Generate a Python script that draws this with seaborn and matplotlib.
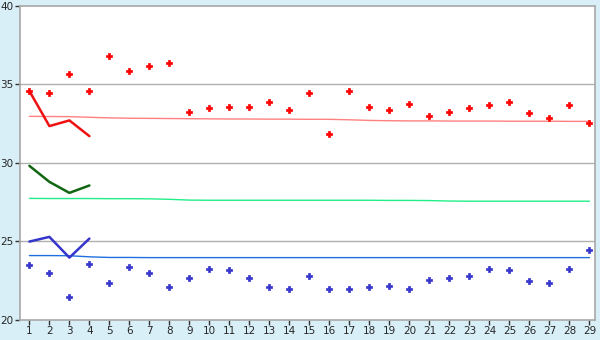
import matplotlib
matplotlib.use("Agg")
import matplotlib.pyplot as plt
import seaborn as sns
import pandas as pd

days = list(range(1, 30))

red_points = [34.57, 34.42, 35.63, 34.57, 36.78, 35.82, 36.14, 36.35, 33.21, 33.46,
              33.53, 33.53, 33.85, 33.34, 34.42, 31.81, 34.55, 33.53, 33.34, 33.72,
              32.96, 33.21, 33.46, 33.66, 33.85, 33.15, 32.83, 33.66, 32.51]
blue_points = [23.53, 23.02, 21.49, 23.59, 22.38, 23.40, 23.02, 22.13, 22.70, 23.27,
               23.21, 22.70, 22.13, 22.00, 22.83, 22.00, 22.00, 22.13, 22.19, 22.00,
               22.57, 22.70, 22.83, 23.27, 23.21, 22.51, 22.38, 23.27, 24.48]

red_mean = [32.96, 32.95, 32.94, 32.90, 32.86, 32.84, 32.83, 32.82, 32.81, 32.80,
            32.79, 32.79, 32.78, 32.78, 32.77, 32.77, 32.74, 32.70, 32.68, 32.67,
            32.67, 32.66, 32.66, 32.66, 32.65, 32.65, 32.65, 32.64, 32.64]
green_mean = [27.74, 27.73, 27.73, 27.73, 27.72, 27.72, 27.71, 27.68, 27.63, 27.62,
              27.62, 27.62, 27.62, 27.62, 27.62, 27.62, 27.62, 27.62, 27.61, 27.61,
              27.60, 27.57, 27.56, 27.56, 27.56, 27.56, 27.56, 27.56, 27.56]
blue_mean = [24.10, 24.10, 24.09, 24.02, 23.98, 23.98, 23.97, 23.97, 23.97, 23.97,
             23.97, 23.97, 23.97, 23.97, 23.97, 23.97, 23.97, 23.97, 23.97, 23.97,
             23.97, 23.97, 23.97, 23.97, 23.97, 23.97, 23.97, 23.97, 23.97]

first_days = [1, 2, 3, 4]
red_recent = [34.57, 32.34, 32.70, 31.70]
green_recent = [29.81, 28.79, 28.09, 28.56]
blue_recent = [24.99, 25.29, 23.97, 25.18]

y_ticks = [20, 25, 30, 35, 40]

sns.set_theme(style="white")
plt.rcParams['font.family'] = ['DejaVu Sans']

fig = plt.figure(figsize=(6, 3.4), dpi=100)
fig.patch.set_facecolor("#d9eff7")
ax = fig.add_axes([20/600, 1 - 320/340, 575/600, (320 - 5.7)/340])
ax.set_facecolor("white")

for v in y_ticks[1:-1]:
    ax.axhline(v, color="#b0b0b0", lw=1.0, zorder=0)

sns.lineplot(x=days, y=red_mean, ax=ax, color="#ff8080", lw=1.0)
sns.lineplot(x=days, y=green_mean, ax=ax, color="#22ee88", lw=1.0)
sns.lineplot(x=days, y=blue_mean, ax=ax, color="#1f6fe0", lw=1.0)

sns.lineplot(x=first_days, y=red_recent, ax=ax, color="#ee1111", lw=1.8)
sns.lineplot(x=first_days, y=green_recent, ax=ax, color="#116611", lw=1.8)
sns.lineplot(x=first_days, y=blue_recent, ax=ax, color="#3535cc", lw=1.8)

sns.scatterplot(x=days, y=red_points, ax=ax, color="#ff0000", marker="P", s=13,
                edgecolor="#ff0000", linewidth=0.5, zorder=5)
sns.scatterplot(x=days, y=blue_points, ax=ax, color="#3535cc", marker="P", s=13,
                edgecolor="#3535cc", linewidth=0.5, zorder=5)

ax.set_xlim(0.53, 29.28)
ax.set_ylim(20, 40)
ax.set_xticks(days)
ax.set_xticklabels([str(d) for d in days])
ax.set_yticks(y_ticks)
ax.tick_params(axis="both", labelsize=7.5, length=3.5, width=1, color="#333333",
               direction="out", pad=1, bottom=True, left=True)
for s in ax.spines.values():
    s.set_color("#a8a8a8")
    s.set_linewidth(1.2)

fig.savefig("out.png", dpi=100, facecolor=fig.get_facecolor())
